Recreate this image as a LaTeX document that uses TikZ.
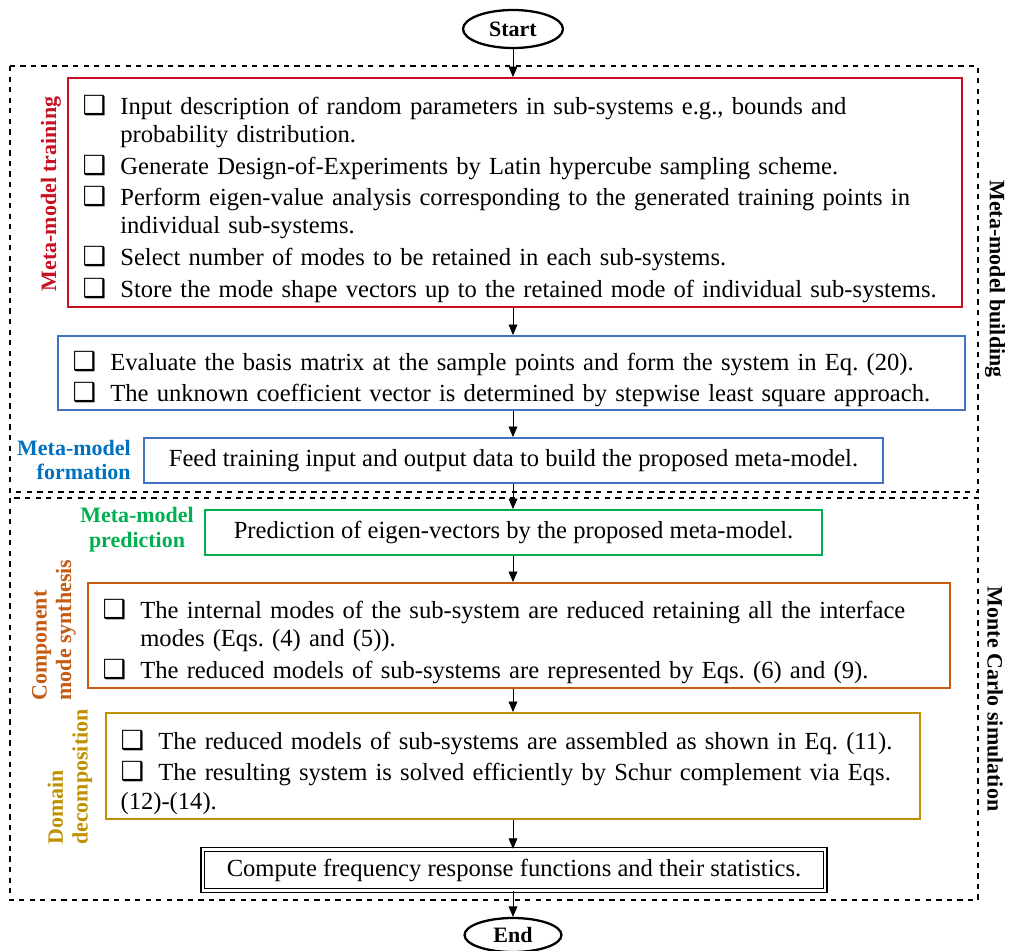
\documentclass[tikz,border=0pt]{standalone}
\usepackage{fontspec}
\setmainfont{Liberation Serif}
\newfontfamily\symfont{DejaVu Sans}
\usetikzlibrary{arrows.meta,shapes.geometric}

\definecolor{trainred}{RGB}{200,16,32}
\definecolor{formblue}{RGB}{0,112,192}
\definecolor{boxblue}{RGB}{68,114,196}
\definecolor{predgreen}{RGB}{0,176,80}
\definecolor{cmsorange}{RGB}{197,90,17}
\definecolor{ddgold}{RGB}{191,144,0}

\newcommand{\chk}{{\symfont\fontsize{15}{16}\selectfont\char"2751}}
\newcommand{\citem}[1]{\par\hangindent=21.5pt\hangafter=1\noindent\hbox to 21.5pt{\chk\hfil}#1}
\frenchspacing

\begin{document}
\begin{tikzpicture}[x=0.02cm,y=-0.02cm,
    txt/.style={font=\fontsize{14}{16}\selectfont},
    box/.style={draw, line width=1.1pt, txt, align=left, inner xsep=0.29cm, inner ysep=0pt,
      execute at begin node={\setlength{\parskip}{2pt}}},
    cbox/.style={draw, line width=1.1pt, txt, align=center, inner sep=0pt},
    lab/.style={font=\fontsize{12.5}{14}\selectfont\bfseries, inner sep=0pt},
    term/.style={ellipse, draw, line width=1.3pt, font=\fontsize{12.5}{14}\selectfont\bfseries, inner sep=0pt},
    arr/.style={-{Triangle[length=6pt,width=5pt]}, line width=0.5pt},
    group/.style={dashed, line width=0.6pt}]
    \useasboundingbox (0,0) rectangle (1009,951);

    % Groups
    \draw[group] (10,66) rectangle (978,492);
    \draw[group] (10,498) rectangle (978,900);
    \node[lab, rotate=-90] (build) at (995,279) {Meta-model building};
    \node[lab, rotate=-90] (mcs) at (995,699) {Monte Carlo simulation};

    % Terminals
    \node[term, minimum width=2cm, minimum height=0.76cm] (start) at (513,29) {Start};
    \node[term, minimum width=1.94cm, minimum height=0.68cm] (stop) at (513,935) {End};

    % Meta-model training
    \node[box, draw=trainred, text width=17.3cm, minimum height=4.58cm] (train) at (515,192.5) {%
      \citem{Input description of random parameters in sub-systems e.g., bounds and\newline probability distribution.}
      \citem{Generate Design-of-Experiments by Latin hypercube sampling scheme.}
      \citem{Perform eigen-value analysis corresponding to the generated training points in\newline individual sub-systems.}
      \citem{Select number of modes to be retained in each sub-systems.}
      \citem{Store the mode shape vectors up to the retained mode of individual sub-systems.}};
    \node[lab, text=trainred, rotate=90] (trainlab) at (51,194) {Meta-model training};

    % Basis matrix
    \node[box, draw=boxblue, text width=17.56cm, minimum height=1.48cm] (basis) at (511.5,373) {%
      \citem{Evaluate the basis matrix at the sample points and form the system in Eq. (20).}
      \citem{The unknown coefficient vector is determined by stepwise least square approach.}};

    % Meta-model formation
    \node[cbox, draw=boxblue, minimum width=14.78cm, minimum height=0.9cm] (feed) at (513.5,460.5)
      {Feed training input and output data to build the proposed meta-model.};
    \node[lab, text=formblue, align=right, anchor=east] (formlab) at (131,460) {Meta-model\\formation};

    % Meta-model prediction
    \node[cbox, draw=predgreen, minimum width=12.34cm, minimum height=0.9cm] (predict) at (513.5,532.5)
      {Prediction of eigen-vectors by the proposed meta-model.};
    \node[lab, text=predgreen, align=center] (predlab) at (137,530) {Meta-model\\prediction};

    % Component mode synthesis
    \node[box, draw=cmsorange, text width=16.66cm, minimum height=2.1cm] (synth) at (519,635.5) {%
      \citem{The internal modes of the sub-system are reduced retaining all the interface\newline modes (Eqs. (4) and (5)).}
      \citem{The reduced models of sub-systems are represented by Eqs. (6) and (9).}};
    \node[lab, text=cmsorange, rotate=90, align=left] (synthlab) at (54,630) {Component\\mode synthesis};

    % Domain decomposition
    \node[box, draw=ddgold, text width=15.7cm, minimum height=2.12cm] (decomp) at (513,766) {%
      \citem{The reduced models of sub-systems are assembled as shown in Eq. (11).}
      \citem{The resulting system is solved efficiently by Schur complement via Eqs.\newline (12)-(14).}};
    \node[lab, text=ddgold, rotate=90, align=left] (decomplab) at (70,777) {Domain\\decomposition};

    % Statistics
    \node[cbox, double, double distance=1.2pt, line width=0.8pt, minimum width=12.45cm, minimum height=0.82cm] (frf) at (514,870)
      {Compute frequency response functions and their statistics.};

    % Arrows
    \draw[arr] (start) -- (start |- train.north);
    \draw[arr] (start |- train.south) -- (start |- basis.north);
    \draw[arr] (start |- basis.south) -- (start |- feed.north);
    \draw[arr] (start |- feed.south) -- (start |- predict.north);
    \draw[arr] (start |- predict.south) -- (start |- synth.north);
    \draw[arr] (start |- synth.south) -- (start |- decomp.north);
    \draw[arr] (start |- decomp.south) -- (start |- frf.north);
    \draw[arr] (start |- frf.south) -- (stop);
\end{tikzpicture}
\end{document}
